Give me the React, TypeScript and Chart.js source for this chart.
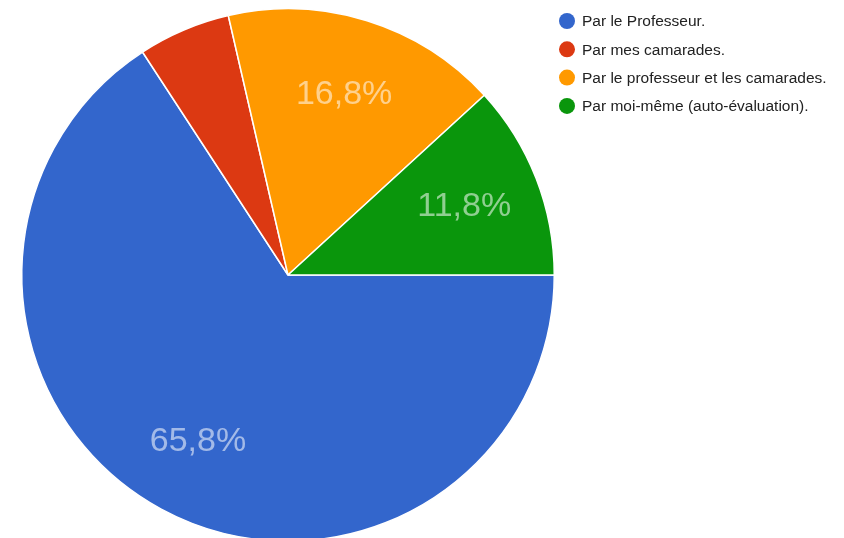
import React, { useEffect, useRef } from "react";
import { Chart, registerables } from "chart.js";

Chart.register(...registerables);

const categories = [
  "Par le Professeur.",
  "Par mes camarades.",
  "Par le professeur et les camarades.",
  "Par moi-même (auto-évaluation).",
];
const values = [65.8, 5.6, 16.8, 11.8];
const pctLabels = ["65,8%", "", "16,8%", "11,8%"];
const colors = ["#3366cc", "#dc3912", "#ff9900", "#0a960c"];

const sliceLabelPlugin = {
  id: "sliceLabels",
  afterDatasetsDraw(chart: any) {
    const ctx = chart.ctx;
    const meta = chart.getDatasetMeta(0);
    ctx.save();
    ctx.font = "34px 'Liberation Sans', Arial, sans-serif";
    ctx.fillStyle = "rgba(255,255,255,0.55)";
    ctx.textAlign = "center";
    ctx.textBaseline = "middle";
    meta.data.forEach((arc: any, i: number) => {
      const txt = pctLabels[i];
      if (!txt) return;
      const { x, y, startAngle, endAngle, outerRadius } = arc.getProps(
        ["x", "y", "startAngle", "endAngle", "outerRadius"],
        true
      );
      const mid = (startAngle + endAngle) / 2;
      const d = outerRadius * 0.71;
      ctx.fillText(txt, x + Math.cos(mid) * d, y + Math.sin(mid) * d);
    });
    ctx.restore();
  },
};

const legendPlugin = {
  id: "customLegend",
  afterDraw(chart: any) {
    const ctx = chart.ctx;
    ctx.save();
    ctx.font = "15.5px 'Liberation Sans', Arial, sans-serif";
    ctx.textBaseline = "middle";
    ctx.textAlign = "left";
    categories.forEach((label, i) => {
      const cy = 21 + i * 28.3;
      ctx.beginPath();
      ctx.fillStyle = colors[i];
      ctx.arc(567, cy, 8, 0, Math.PI * 2);
      ctx.fill();
      ctx.fillStyle = "#222222";
      ctx.fillText(label, 582, cy + 1);
    });
    ctx.restore();
  },
};

export default function App() {
  const ref = useRef<HTMLCanvasElement>(null);
  useEffect(() => {
    document.body.style.margin = "0";
    const chart = new Chart(ref.current!, {
      type: "pie",
      data: {
        labels: categories,
        datasets: [
          {
            data: values,
            backgroundColor: colors,
            borderColor: "#ffffff",
            borderWidth: 1.5,
          },
        ],
      },
      options: {
        animation: false,
        responsive: false,
        rotation: 90,
        layout: { padding: { left: 21, right: 289, top: 8, bottom: 8 } },
        plugins: {
          legend: { display: false },
          tooltip: { enabled: false },
        },
      },
      plugins: [sliceLabelPlugin, legendPlugin],
    });
    return () => chart.destroy();
  }, []);
  return (
    <div
      style={{
        position: "absolute",
        left: 0,
        top: 0,
        width: 844,
        height: 538,
        overflow: "hidden",
        background: "#ffffff",
      }}
    >
      <canvas ref={ref} width={844} height={550} style={{ display: "block" }} />
    </div>
  );
}
